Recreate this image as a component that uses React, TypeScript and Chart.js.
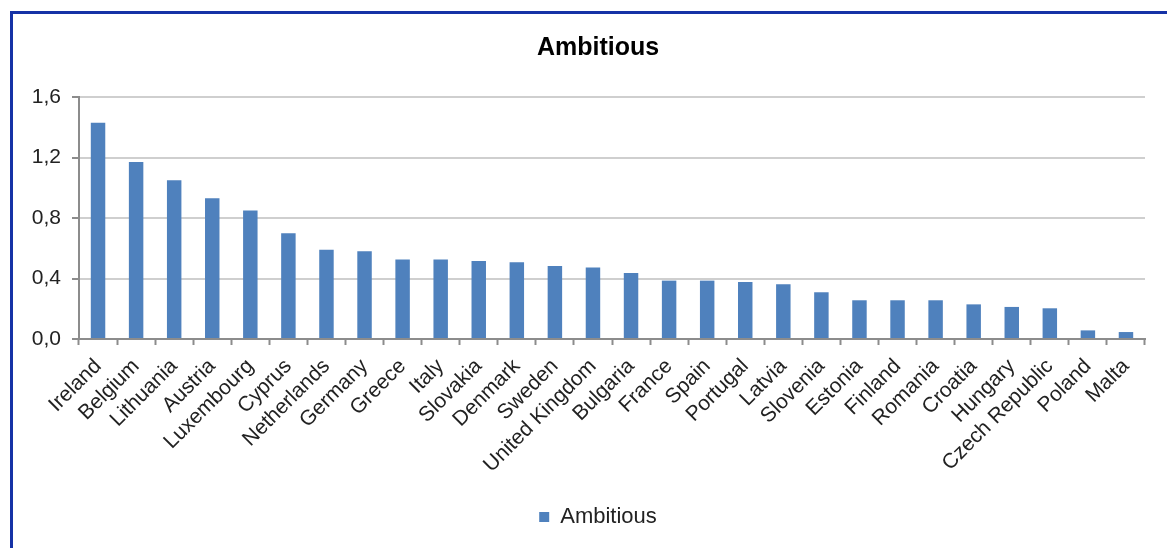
import React, { useEffect, useRef } from "react";
import { Chart, registerables } from "chart.js";

Chart.register(...registerables);

// Countries, ordered by score
const countries = [
  "Ireland", "Belgium", "Lithuania", "Austria", "Luxembourg", "Cyprus",
  "Netherlands", "Germany", "Greece", "Italy", "Slovakia", "Denmark",
  "Sweden", "United Kingdom", "Bulgaria", "France", "Spain", "Portugal",
  "Latvia", "Slovenia", "Estonia", "Finland", "Romania", "Croatia",
  "Hungary", "Czech Republic", "Poland", "Malta",
];

// "Ambitious" scenario score per country
const ambitious = [
  1.43, 1.17, 1.05, 0.93, 0.85, 0.70,
  0.59, 0.58, 0.525, 0.525, 0.516, 0.507,
  0.483, 0.472, 0.436, 0.386, 0.386, 0.377,
  0.362, 0.309, 0.256, 0.256, 0.256, 0.229,
  0.212, 0.203, 0.057, 0.046,
];

// Value axis ticks
const yTicks = [0, 0.4, 0.8, 1.2, 1.6];

const W = 1167;
const H = 548;
const PLOT_TOP = 97;
const PLOT_BOTTOM = 339;
const PAD_LEFT = 51;
const PAD_RIGHT = 22;
const PAD_BOTTOM = 10;
const Y_AXIS_W = 79 - PAD_LEFT;
const TITLE_SIZE = 25;
const TITLE_CENTER = 48;

const FONT = "'Liberation Sans', Arial, sans-serif";

export default function App() {
  const canvasRef = useRef<HTMLCanvasElement | null>(null);

  useEffect(() => {
    const canvas = canvasRef.current;
    if (!canvas) return;
    const titleLine = TITLE_SIZE * 1.2;
    const titleTop = TITLE_CENTER - titleLine / 2;
    const titleBottom = PLOT_TOP - titleTop - titleLine;

    const chart = new Chart(canvas, {
      type: "bar",
      data: {
        labels: countries,
        datasets: [
          {
            label: "Ambitious",
            data: ambitious,
            backgroundColor: "#4F81BD",
            borderWidth: 0,
            barPercentage: 0.38,
            categoryPercentage: 1,
          },
        ],
      },
      options: {
        responsive: false,
        animation: false,
        layout: {
          padding: { left: PAD_LEFT, right: PAD_RIGHT, top: 0, bottom: PAD_BOTTOM },
        },
        plugins: {
          title: {
            display: true,
            text: "Ambitious",
            color: "#000",
            font: { family: FONT, size: TITLE_SIZE, weight: "bold", lineHeight: 1.2 },
            padding: { top: titleTop, bottom: titleBottom },
          },
          legend: {
            display: true,
            position: "bottom",
            labels: {
              boxWidth: 10,
              boxHeight: 10,
              color: "#222",
              font: { family: FONT, size: 22 },
              padding: 10,
            },
          },
          tooltip: { enabled: false },
        },
        scales: {
          x: {
            offset: true,
            grid: {
              display: true,
              drawOnChartArea: false,
              drawTicks: true,
              tickLength: 6,
              tickColor: "#8C8C8C",
              tickWidth: 2,
              offset: true,
            },
            border: { display: true, color: "#8C8C8C", width: 2 },
            ticks: {
              autoSkip: false,
              minRotation: 45,
              maxRotation: 45,
              padding: 9,
              color: "#222",
              font: { family: FONT, size: 21 },
            },
            afterFit: (scale: any) => {
              const legendH = scale.chart.legend ? scale.chart.legend.height : 42;
              scale.height = H - PAD_BOTTOM - legendH - PLOT_BOTTOM;
            },
          },
          y: {
            min: 0,
            max: 1.6,
            afterBuildTicks: (scale: any) => {
              scale.ticks = yTicks.map((v) => ({ value: v }));
            },
            grid: {
              color: "#CFCFCF",
              lineWidth: 2,
              drawTicks: true,
              tickLength: 7,
              tickColor: "#8C8C8C",
              tickWidth: 2,
            },
            border: { display: true, color: "#8C8C8C", width: 2 },
            ticks: {
              padding: 11,
              color: "#222",
              font: { family: FONT, size: 21 },
              callback: (v: any) => Number(v).toFixed(1).replace(".", ","),
            },
            afterFit: (scale: any) => {
              scale.width = Y_AXIS_W;
              // the labels sit left of the narrow axis box; keep them unclipped
              scale._computeLabelArea = () => undefined;
            },
          },
        },
      },
    });
    return () => chart.destroy();
  }, []);

  return (
    <div
      style={{
        position: "fixed",
        left: 0,
        top: 0,
        width: W,
        height: H,
        overflow: "hidden",
        background: "#fff",
      }}
    >
      <div
        style={{
          position: "absolute",
          left: 10,
          top: 11,
          width: W + 20,
          height: H + 20,
          border: "3px solid #1532A6",
          boxSizing: "border-box",
        }}
      />
      <canvas
        ref={canvasRef}
        width={W}
        height={H}
        style={{ position: "absolute", left: 0, top: 0, width: W, height: H }}
      />
    </div>
  );
}
